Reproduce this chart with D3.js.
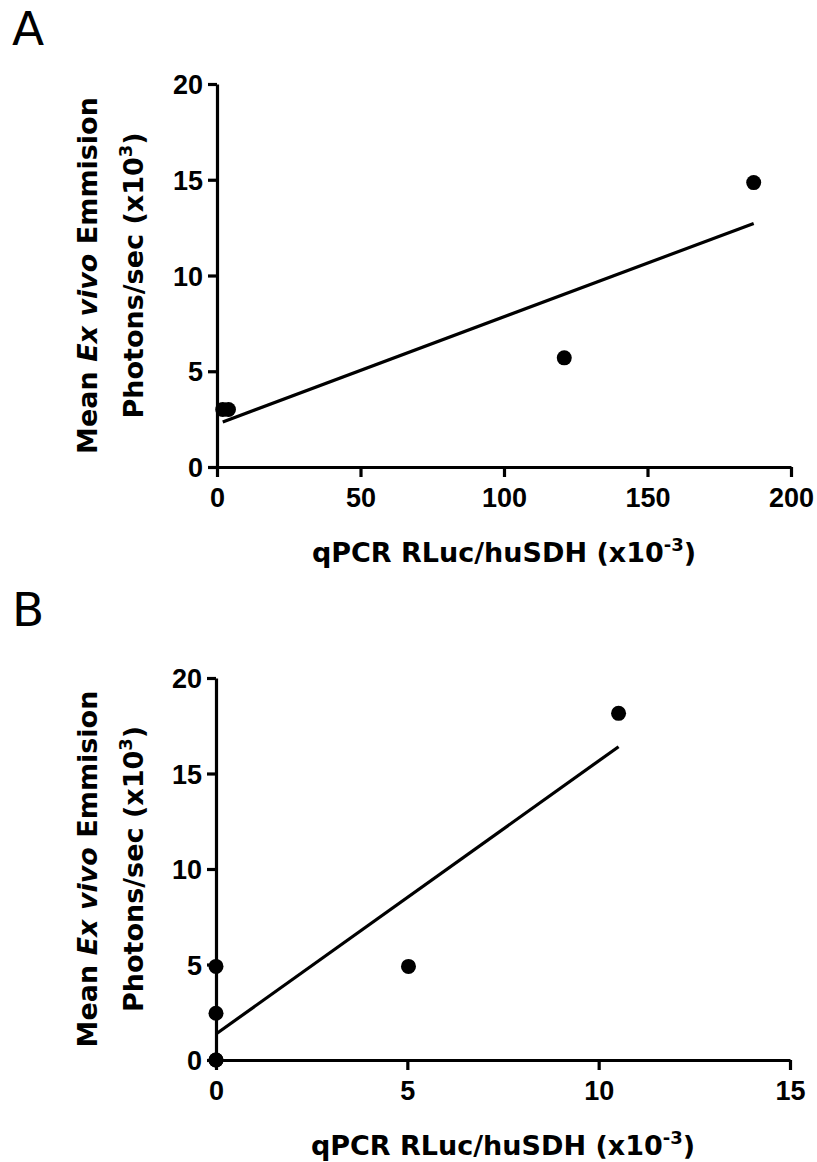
<!DOCTYPE html>
<html>
<head>
<meta charset="utf-8">
<script src="https://cdn.jsdelivr.net/npm/d3@7"></script>
<style>
  body { margin: 0; background: #fff; }
  text { fill: #000; }
</style>
</head>
<body>
<svg id="fig" width="817" height="1162"></svg>
<script>
// panel A: qPCR RLuc/huSDH (x10^-3) vs mean ex vivo emission (x10^3)
const xA = [2, 4, 121, 187];
const yA = [3.0, 3.0, 5.7, 14.85];
const xTicksA = [0, 50, 100, 150, 200];

// panel B
const xB = [0, 0, 0, 0, 5.03, 10.52];
const yB = [0, 0, 2.45, 4.9, 4.9, 18.15];
const xTicksB = [0, 5, 10, 15];

const yTicks = [0, 5, 10, 15, 20];

const FONT = "'DejaVu Sans', sans-serif";
const TICKFONT = "'Liberation Sans', Arial, sans-serif";

const panels = [
  { letter: 'A', letterY: 45, xs: xA, ys: yA, xDomain: [0, 200], xTicks: xTicksA,
    left: 217, right: 791, top: 84, bottom: 467 },
  { letter: 'B', letterY: 626, xs: xB, ys: yB, xDomain: [0, 15], xTicks: xTicksB,
    left: 216, right: 790, top: 678, bottom: 1060 }
];

// least squares fit
function fit(xs, ys) {
  const n = xs.length;
  const mx = d3.mean(xs), my = d3.mean(ys);
  let sxy = 0, sxx = 0;
  for (let i = 0; i < n; i++) {
    sxy += (xs[i] - mx) * (ys[i] - my);
    sxx += (xs[i] - mx) * (xs[i] - mx);
  }
  const slope = sxy / sxx;
  return { slope, intercept: my - slope * mx };
}

const svg = d3.select('#fig');

panels.forEach(p => {
  const g = svg.append('g');
  const x = d3.scaleLinear().domain(p.xDomain).range([p.left, p.right]);
  const y = d3.scaleLinear().domain([0, 20]).range([p.bottom, p.top]);

  g.append('text')
    .attr('x', 12)
    .attr('y', p.letterY)
    .attr('font-family', FONT)
    .attr('font-size', 47)
    .text(p.letter);

  // y axis
  const ya = g.append('g')
    .attr('transform', `translate(${p.left},0)`)
    .call(d3.axisLeft(y).tickValues(yTicks).tickSize(9).tickSizeOuter(0).tickPadding(5));
  // x axis
  const xa = g.append('g')
    .attr('transform', `translate(0,${p.bottom})`)
    .call(d3.axisBottom(x).tickValues(p.xTicks).tickSize(10).tickSizeOuter(0));

  [ya, xa].forEach(a => {
    a.select('.domain').attr('stroke', '#000').attr('stroke-width', 3.2);
    a.selectAll('.tick line').attr('stroke', '#000').attr('stroke-width', 3.2);
    a.selectAll('.tick text')
      .attr('fill', '#000')
      .attr('font-family', TICKFONT)
      .attr('font-weight', 'bold')
      .attr('font-size', 27);
  });
  ya.selectAll('.tick text').attr('dy', '0.36em');
  xa.selectAll('.tick text').attr('y', 40).attr('dy', null);

  // regression line across the data range
  const f = fit(p.xs, p.ys);
  const x0 = d3.min(p.xs), x1 = d3.max(p.xs);
  g.append('line')
    .attr('x1', x(x0)).attr('y1', y(f.intercept + f.slope * x0))
    .attr('x2', x(x1)).attr('y2', y(f.intercept + f.slope * x1))
    .attr('stroke', '#000')
    .attr('stroke-width', 3.2);

  g.selectAll('.dot')
    .data(p.xs.map((v, i) => [v, p.ys[i]]))
    .join('circle')
    .attr('class', 'dot')
    .attr('cx', d => x(d[0]))
    .attr('cy', d => y(d[1]))
    .attr('r', 7.5)
    .attr('fill', '#000');

  // y title, two lines
  const cy = (p.top + p.bottom) / 2;
  const t1 = g.append('text')
    .attr('transform', `translate(97,${cy}) rotate(-90)`)
    .attr('text-anchor', 'middle')
    .attr('font-family', FONT)
    .attr('font-weight', 'bold')
    .attr('font-size', 27);
  t1.append('tspan').text('Mean ');
  t1.append('tspan').attr('font-style', 'italic').text('Ex vivo');
  t1.append('tspan').text(' Emmision');

  const t2 = g.append('text')
    .attr('transform', `translate(143,${cy}) rotate(-90)`)
    .attr('text-anchor', 'middle')
    .attr('font-family', FONT)
    .attr('font-weight', 'bold')
    .attr('font-size', 27);
  t2.append('tspan').text('Photons/sec (x10');
  t2.append('tspan').attr('dy', -11).attr('font-size', 18).text('3');
  t2.append('tspan').attr('dy', 11).text(')');

  // x title
  const xt = g.append('text')
    .attr('x', (p.left + p.right) / 2)
    .attr('y', p.bottom + 95)
    .attr('text-anchor', 'middle')
    .attr('font-family', FONT)
    .attr('font-weight', 'bold')
    .attr('font-size', 27);
  xt.append('tspan').text('qPCR RLuc/huSDH (x10');
  xt.append('tspan').attr('dy', -11).attr('font-size', 18).text('-3');
  xt.append('tspan').attr('dy', 11).text(')');
});
</script>
</body>
</html>
